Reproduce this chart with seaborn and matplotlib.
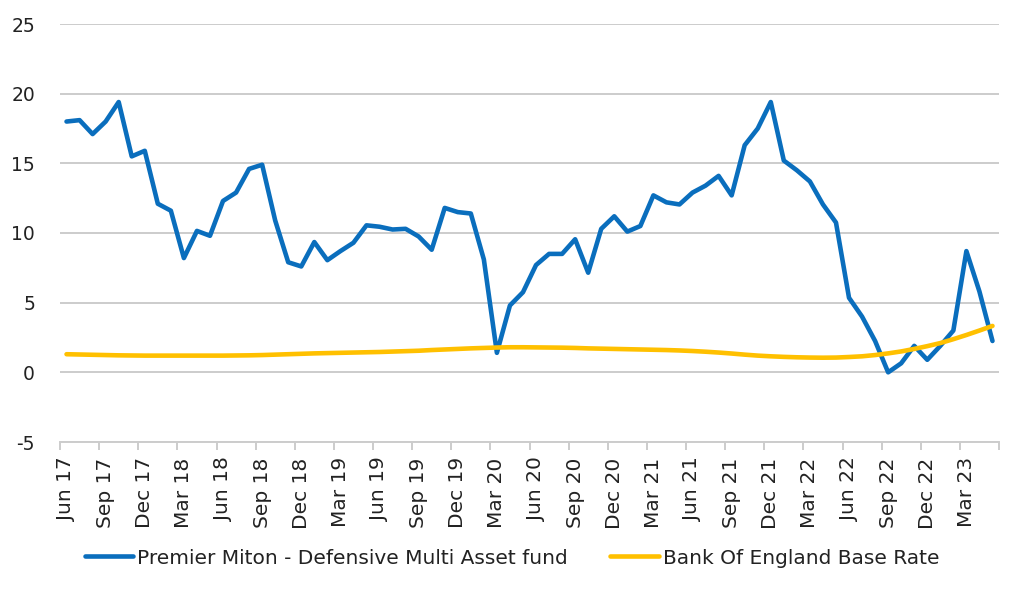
import numpy as np
import pandas as pd
import matplotlib
matplotlib.use("Agg")
import matplotlib.pyplot as plt
import seaborn as sns

months = ["Jun 17", "Jul 17", "Aug 17", "Sep 17", "Oct 17", "Nov 17", "Dec 17", "Jan 18", "Feb 18",
          "Mar 18", "Apr 18", "May 18", "Jun 18", "Jul 18", "Aug 18", "Sep 18", "Oct 18", "Nov 18",
          "Dec 18", "Jan 19", "Feb 19", "Mar 19", "Apr 19", "May 19", "Jun 19", "Jul 19", "Aug 19",
          "Sep 19", "Oct 19", "Nov 19", "Dec 19", "Jan 20", "Feb 20", "Mar 20", "Apr 20", "May 20",
          "Jun 20", "Jul 20", "Aug 20", "Sep 20", "Oct 20", "Nov 20", "Dec 20", "Jan 21", "Feb 21",
          "Mar 21", "Apr 21", "May 21", "Jun 21", "Jul 21", "Aug 21", "Sep 21", "Oct 21", "Nov 21",
          "Dec 21", "Jan 22", "Feb 22", "Mar 22", "Apr 22", "May 22", "Jun 22", "Jul 22", "Aug 22",
          "Sep 22", "Oct 22", "Nov 22", "Dec 22", "Jan 23", "Feb 23", "Mar 23", "Apr 23", "May 23"]

fund = [18.0, 18.1, 17.1, 18.0, 19.4, 15.5, 15.9, 12.1, 11.6, 8.2,
        10.15, 9.8, 12.3, 12.9, 14.6, 14.9, 10.9, 7.9, 7.6, 9.35,
        8.05, 8.7, 9.3, 10.55, 10.45, 10.25, 10.3, 9.75, 8.8, 11.8,
        11.5, 11.4, 8.1, 1.4, 4.8, 5.75, 7.7, 8.5, 8.5, 9.55,
        7.15, 10.3, 11.2, 10.1, 10.5, 12.7, 12.2, 12.05, 12.9, 13.4,
        14.1, 12.7, 16.3, 17.5, 19.4, 15.2, 14.5, 13.7, 12.05, 10.75,
        5.35, 4.0, 2.25, 0.0, 0.65, 1.9, 0.9, 1.9, 3.0, 8.7,
        5.8, 2.25]

boe = [1.30, 1.28, 1.26, 1.24, 1.22, 1.21, 1.20, 1.20, 1.20, 1.20,
       1.20, 1.20, 1.20, 1.21, 1.22, 1.24, 1.27, 1.30, 1.33, 1.36,
       1.38, 1.40, 1.42, 1.44, 1.46, 1.49, 1.52, 1.55, 1.60, 1.64,
       1.68, 1.72, 1.75, 1.78, 1.80, 1.80, 1.79, 1.78, 1.77, 1.75,
       1.72, 1.70, 1.68, 1.66, 1.64, 1.62, 1.60, 1.57, 1.53, 1.48,
       1.42, 1.35, 1.27, 1.20, 1.15, 1.11, 1.08, 1.06, 1.05, 1.06,
       1.10, 1.15, 1.24, 1.36, 1.50, 1.68, 1.88, 2.10, 2.38, 2.68,
       3.00, 3.33]

series_names = ["Premier Miton - Defensive Multi Asset fund", "Bank Of England Base Rate"]
colors = ["#0A6EBD", "#FFC000"]
yticks = [-5, 0, 5, 10, 15, 20, 25]

n = len(months)
df = pd.concat([
    pd.DataFrame({"idx": np.arange(n), "value": fund, "series": series_names[0]}),
    pd.DataFrame({"idx": np.arange(n), "value": boe, "series": series_names[1]}),
])

sns.set_theme(style="white")
plt.rcParams["font.family"] = ["DejaVu Sans"]
text_color = "#222222"

fig = plt.figure(figsize=(10.24, 5.95), dpi=100)
ax = fig.add_axes([60 / 1024, 1 - 442 / 595, (999 - 60) / 1024, (442 - 24) / 595])

sns.lineplot(data=df, x="idx", y="value", hue="series", palette=colors,
             hue_order=series_names, linewidth=3.3, ax=ax, legend=False)

ax.set_xlim(-0.5, n - 0.5)
ax.set_ylim(-5, 25)
ax.set_yticks(yticks)
ax.set_yticklabels([str(v) for v in yticks], fontsize=13.5, color=text_color)
ax.yaxis.grid(True, color="#CCCCCC", linewidth=1.4)
ax.set_axisbelow(True)

major = np.arange(0, n, 3)
ax.set_xticks(major)
ax.set_xticklabels([months[i] for i in major], rotation=90, fontsize=14.5, color=text_color)
ax.set_xticks(np.arange(-0.5, n, 3), minor=True)
ax.tick_params(axis="x", which="major", length=0, pad=11)
ax.tick_params(axis="x", which="minor", length=6, width=1.4, color="#CCCCCC", bottom=True)
ax.tick_params(axis="y", length=0, pad=18)

for s in ["top", "right", "left"]:
    ax.spines[s].set_visible(False)
ax.spines["bottom"].set_color("#CCCCCC")
ax.spines["bottom"].set_linewidth(1.4)
ax.set_xlabel("")
ax.set_ylabel("")

handles = [plt.Line2D([], [], color=c, linewidth=3.3) for c in colors]
fig.legend(handles, series_names, loc="center", bbox_to_anchor=(0.5, 1 - 558 / 595),
           ncol=2, frameon=False, fontsize=14.5, handlelength=2.4, handletextpad=0.2,
           columnspacing=2.1, labelcolor=text_color)

fig.savefig("out.png", dpi=100)
